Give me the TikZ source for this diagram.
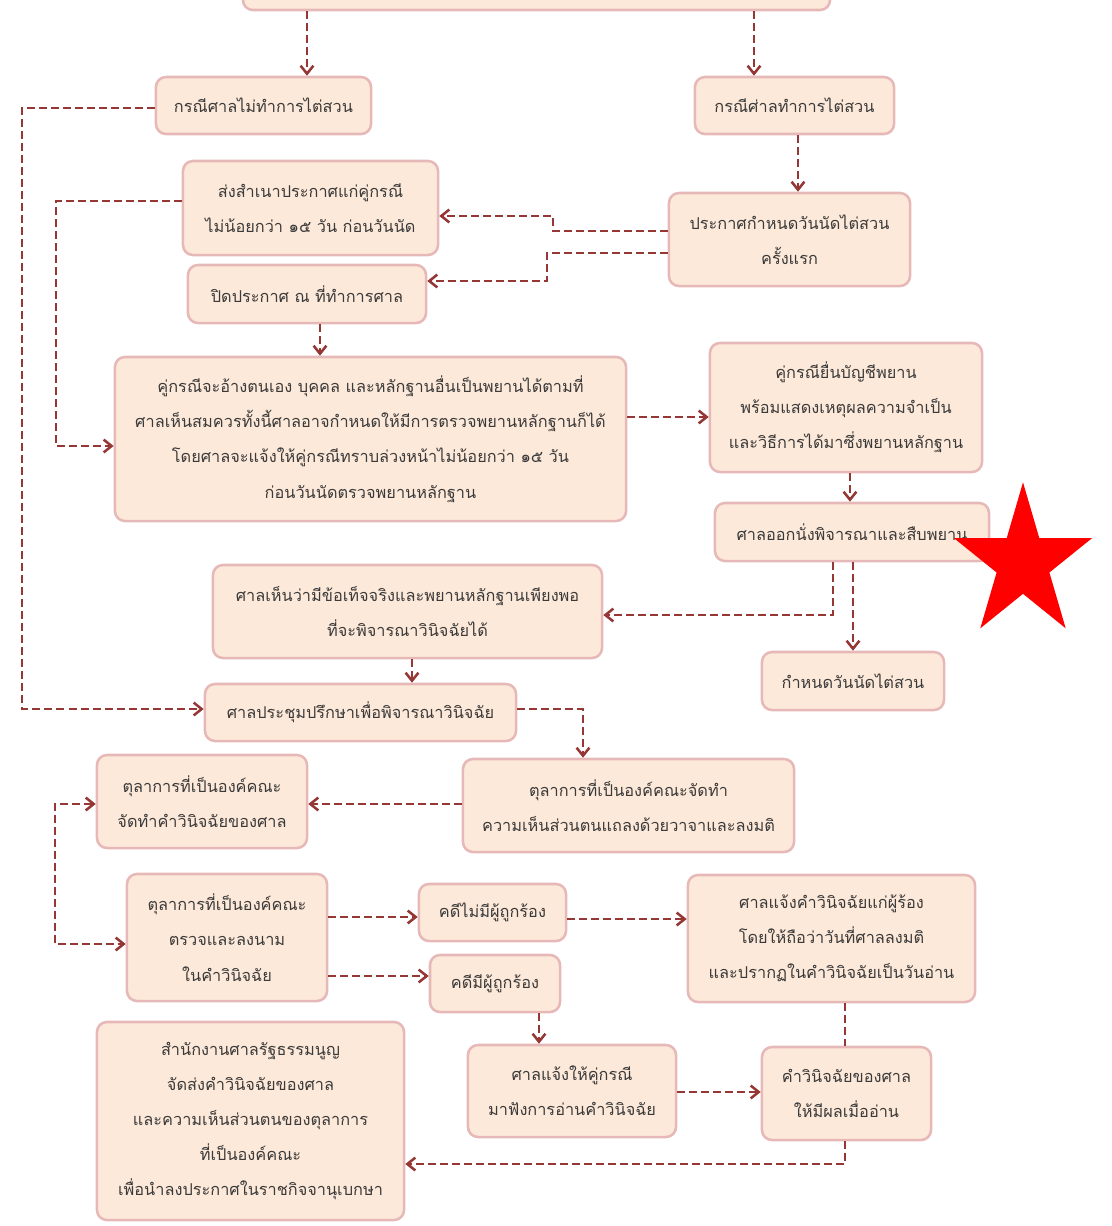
\documentclass[tikz,border=0pt]{standalone}
\usepackage{fontspec}
\newfontfamily\thaifont[Script=Thai]{Loma}
\usetikzlibrary{arrows.meta}
\definecolor{boxfill}{HTML}{FDE9D9}
\definecolor{boxline}{HTML}{E6B9B8}
\definecolor{linkred}{HTML}{953735}
\definecolor{textgray}{HTML}{3A3A3A}
\begin{document}
\begin{tikzpicture}[x=0.025cm,y=-0.025cm,>={Straight Barb[length=0.2cm,width=0.32cm]},
	box/.style={draw=boxline,fill=boxfill,line width=1.8pt,rounded corners=0.25cm,text=textgray,align=center,inner sep=0pt,font=\thaifont\fontsize{11.6}{25}\selectfont},
	plain/.style={draw=linkred,line width=1.8pt,dash pattern=on 0.2cm off 0.1cm},
	link/.style={plain,->},
	twoway/.style={plain,<->}]
	   \useasboundingbox (0,0) rectangle (1112,1226);
	   \clip (0,0) rectangle (1112,1226);
	   \node [box,minimum width=14.675cm,minimum height=1.5cm] (top) at (536.5,-20) {};
	   \node [box,minimum width=5.375cm,minimum height=1.425cm] (noHear) at (263.5,105.5) {กรณีศาลไม่ทำการไต่สวน};
	   \node [box,minimum width=4.975cm,minimum height=1.425cm] (hear) at (794.5,105.5) {กรณีศ่าลทำการไต่สวน};
	   \node [box,minimum width=6.025cm,minimum height=2.325cm] (announce) at (789.5,239.5) {ประกาศกำหนดวันนัดไต่สวน\\ครั้งแรก};
	   \node [box,minimum width=6.375cm,minimum height=2.35cm] (sendCopy) at (310.5,208) {ส่งสำเนาประกาศแก่คู่กรณี\\ไม่น้อยกว่า ๑๕ วัน ก่อนวันนัด};
	   \node [box,minimum width=5.95cm,minimum height=1.45cm] (post) at (307,294) {ปิดประกาศ ณ ที่ทำการศาล};
	   \node [box,minimum width=12.775cm,minimum height=4.1cm] (evidence) at (370.5,439) {คู่กรณีจะอ้างตนเอง บุคคล และหลักฐานอื่นเป็นพยานได้ตามที่\\ศาลเห็นสมควรทั้งนี้ศาลอาจกำหนดให้มีการตรวจพยานหลักฐานก็ได้\\โดยศาลจะแจ้งให้คู่กรณีทราบล่วงหน้าไม่น้อยกว่า ๑๕ วัน\\ก่อนวันนัดตรวจพยานหลักฐาน};
	   \node [box,minimum width=6.8cm,minimum height=3.225cm] (witness) at (846,407.5) {คู่กรณียื่นบัญชีพยาน\\พร้อมแสดงเหตุผลความจำเป็น\\และวิธีการได้มาซึ่งพยานหลักฐาน};
	   \node [box,minimum width=6.85cm,minimum height=1.45cm] (sit) at (852,532) {ศาลออกนั่งพิจารณาและสืบพยาน};
	   \node [box,minimum width=9.725cm,minimum height=2.325cm] (enough) at (407.5,611.5) {ศาลเห็นว่ามีข้อเท็จจริงและพยานหลักฐานเพียงพอ\\ที่จะพิจารณาวินิจฉัยได้};
	   \node [box,minimum width=4.55cm,minimum height=1.45cm] (setDate) at (853,681) {กำหนดวันนัดไต่สวน};
	   \node [box,minimum width=7.775cm,minimum height=1.425cm] (meet) at (360.5,712.5) {ศาลประชุมปรึกษาเพื่อพิจารณาวินิจฉัย};
	   \node [box,minimum width=8.275cm,minimum height=2.325cm] (opinion) at (628.5,805.5) {ตุลาการที่เป็นองค์คณะจัดทำ\\ความเห็นส่วนตนแถลงด้วยวาจาและลงมติ};
	   \node [box,minimum width=5.25cm,minimum height=2.325cm] (draft) at (202,801.5) {ตุลาการที่เป็นองค์คณะ\\จัดทำคำวินิจฉัยของศาล};
	   \node [box,minimum width=5cm,minimum height=3.175cm] (sign) at (227,937.5) {ตุลาการที่เป็นองค์คณะ\\ตรวจและลงนาม\\ในคำวินิจฉัย};
	   \node [box,minimum width=3.675cm,minimum height=1.425cm] (noResp) at (492.5,912.5) {คดีไม่มีผู้ถูกร้อง};
	   \node [box,minimum width=3.25cm,minimum height=1.425cm] (resp) at (495,983.5) {คดีมีผู้ถูกร้อง};
	   \node [box,minimum width=7.175cm,minimum height=3.175cm] (notify) at (831.5,938.5) {ศาลแจ้งคำวินิจฉัยแก่ผู้ร้อง\\โดยให้ถือว่าวันที่ศาลลงมติ\\และปรากฏในคำวินิจฉัยเป็นวันอ่าน};
	   \node [box,minimum width=5.2cm,minimum height=2.3cm] (callParty) at (572,1091) {ศาลแจ้งให้คู่กรณี\\มาฟังการอ่านคำวินิจฉัย};
	   \node [box,minimum width=4.225cm,minimum height=2.325cm] (effect) at (846.5,1093.5) {คำวินิจฉัยของศาล\\ให้มีผลเมื่ออ่าน};
	   \node [box,minimum width=7.675cm,minimum height=4.95cm] (office) at (250.5,1121) {สำนักงานศาลรัฐธรรมนูญ\\จัดส่งคำวินิจฉัยของศาล\\และความเห็นส่วนตนของตุลาการ\\ที่เป็นองค์คณะ\\เพื่อนำลงประกาศในราชกิจจานุเบกษา};
	   \coordinate (c1) at (307,0);
	   \coordinate (c2) at (754,0);
	   \coordinate (c3) at (798,0);
	   \coordinate (c4) at (553,231);
	   \coordinate (c5) at (553,216);
	   \coordinate (c6) at (547,253);
	   \coordinate (c7) at (547,281);
	   \coordinate (c8) at (320,0);
	   \coordinate (c9) at (56,201);
	   \coordinate (c10) at (56,446);
	   \coordinate (c11) at (22,108);
	   \coordinate (c12) at (22,709);
	   \coordinate (c13) at (0,417);
	   \coordinate (c14) at (850,0);
	   \coordinate (c15) at (833,615);
	   \coordinate (c16) at (853,0);
	   \coordinate (c17) at (412,0);
	   \coordinate (c18) at (583,709);
	   \coordinate (c19) at (0,804);
	   \coordinate (c20) at (55,804);
	   \coordinate (c21) at (55,944);
	   \coordinate (c22) at (0,917);
	   \coordinate (c23) at (0,976);
	   \coordinate (c24) at (0,919);
	   \coordinate (c25) at (539,0);
	   \coordinate (c26) at (0,1092);
	   \coordinate (c27) at (845,1164);
	   \draw[link] (top.south -| c1) -- (noHear.north -| c1);
	   \draw[link] (top.south -| c2) -- (hear.north -| c2);
	   \draw[link] (hear.south -| c3) -- (announce.north -| c3);
	   \draw[link] (announce.west |- c4) -- (c4) -- (c5) -- (sendCopy.east |- c5);
	   \draw[link] (announce.west |- c6) -- (c6) -- (c7) -- (post.east |- c7);
	   \draw[link] (post.south -| c8) -- (evidence.north -| c8);
	   \draw[link] (sendCopy.west |- c9) -- (c9) -- (c10) -- (evidence.west |- c10);
	   \draw[link] (noHear.west |- c11) -- (c11) -- (c12) -- (meet.west |- c12);
	   \draw[link] (evidence.east |- c13) -- (witness.west |- c13);
	   \draw[link] (witness.south -| c14) -- (sit.north -| c14);
	   \draw[link] (sit.south -| c15) -- (c15) -- (enough.east |- c15);
	   \draw[link] (sit.south -| c16) -- (setDate.north -| c16);
	   \draw[link] (enough.south -| c17) -- (meet.north -| c17);
	   \draw[link] (meet.east |- c18) -- (c18) -- (opinion.north -| c18);
	   \draw[link] (opinion.west |- c19) -- (draft.east |- c19);
	   \draw[twoway] (draft.west |- c20) -- (c20) -- (c21) -- (sign.west |- c21);
	   \draw[link] (sign.east |- c22) -- (noResp.west |- c22);
	   \draw[link] (sign.east |- c23) -- (resp.west |- c23);
	   \draw[link] (noResp.east |- c24) -- (notify.west |- c24);
	   \draw[link] (resp.south -| c25) -- (callParty.north -| c25);
	   \draw[link] (callParty.east |- c26) -- (effect.west |- c26);
	   \draw[plain] (notify.south -| c27) -- (effect.north -| c27);
	   \draw[link] (effect.south -| c27) -- (c27) -- (office.east |- c27);
	   \fill[red] (1023,482.3) -- (1006.7,538.1) -- (953.9,538.1) -- (996.6,572.5) -- (980.3,628.3) -- (1023,593.8) -- (1065.7,628.3) -- (1049.4,572.5) -- (1092.1,538.1) -- (1039.3,538.1) -- cycle;
\end{tikzpicture}
\end{document}
